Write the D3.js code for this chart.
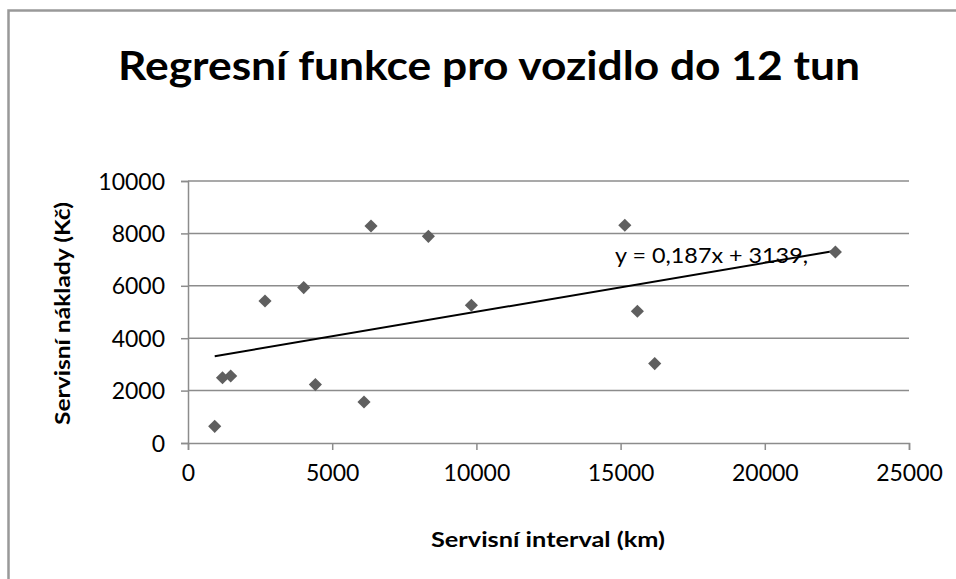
<!DOCTYPE html>
<html>
<head>
<meta charset="utf-8">
<script src="https://cdn.jsdelivr.net/npm/d3@7"></script>
<style>
  body { margin: 0; background: #fff; }
  text { font-family: Lato, "Open Sans", sans-serif; }
</style>
</head>
<body>
<script>
// data
var intervals = [926, 1196, 1480, 2670, 4012, 4417, 6103, 6346, 8335, 9826, 15146, 15582, 16183, 22448];
var costs     = [637, 2490, 2557, 5420, 5931, 2229, 1565, 8282, 7889, 5256, 8309, 5027, 3031, 7290];
var xTicks = [0, 5000, 10000, 15000, 20000, 25000];
var yTicks = [0, 2000, 4000, 6000, 8000, 10000];
var slope = 0.187, intercept = 3139;
var titleText = "Regresní funkce pro vozidlo do 12 tun";
var eqText = "y = 0,187x + 3139,";

var width = 956, height = 579;
var margin = {top: 181, right: 47, bottom: 136, left: 188};

var svg = d3.select("body").append("svg")
    .attr("width", width)
    .attr("height", height);

// chart frame
svg.append("rect")
    .attr("x", 8.5).attr("y", 10.5)
    .attr("width", 960).attr("height", 580)
    .attr("fill", "white")
    .attr("stroke", "#999")
    .attr("stroke-width", 2.5);

var x = d3.scaleLinear().domain([0, 25000]).range([margin.left, width - margin.right]);
var y = d3.scaleLinear().domain([0, 10000]).range([height - margin.bottom, margin.top]);

// gridlines
svg.append("g").selectAll("line")
    .data(yTicks.slice(1))
    .enter().append("line")
    .attr("x1", x(0)).attr("x2", x(25000))
    .attr("y1", function(d) { return y(d); })
    .attr("y2", function(d) { return y(d); })
    .attr("stroke", "#8c8c8c")
    .attr("stroke-width", 1.5);

// axes
var yAxis = svg.append("g")
    .attr("transform", "translate(" + x(0) + ",0)")
    .call(d3.axisLeft(y).tickValues(yTicks).tickSize(7).tickPadding(16).tickFormat(d3.format("d")));
var xAxis = svg.append("g")
    .attr("transform", "translate(0," + y(0) + ")")
    .call(d3.axisBottom(x).tickValues(xTicks).tickSize(7).tickPadding(15).tickFormat(d3.format("d")));

[xAxis, yAxis].forEach(function(a) {
  a.select(".domain").attr("stroke", "#8c8c8c").attr("stroke-width", 1.5);
  a.selectAll(".tick line").attr("stroke", "#8c8c8c").attr("stroke-width", 1.5);
  a.selectAll(".tick text")
    .attr("fill", "#000")
    .style("font-family", "Lato, sans-serif")
    .style("font-size", "23px");
});
yAxis.selectAll(".tick text").attr("dy", "0.35em");

// trend line
var tl = d3.line()
    .x(function(d) { return x(d); })
    .y(function(d) { return y(slope * d + intercept); });
svg.append("path")
    .datum([d3.min(intervals), d3.max(intervals)])
    .attr("d", tl)
    .attr("fill", "none")
    .attr("stroke", "#000")
    .attr("stroke-width", 2);

// points
var diamond = d3.symbol().type(d3.symbolDiamond2).size(110);
svg.append("g").selectAll("path")
    .data(intervals)
    .enter().append("path")
    .attr("d", diamond)
    .attr("transform", function(d, i) { return "translate(" + x(d) + "," + y(costs[i]) + ")"; })
    .attr("fill", "#5f5f5f");

// equation label
svg.append("text")
    .attr("x", 615).attr("y", 263)
    .attr("textLength", 193)
    .attr("lengthAdjust", "spacingAndGlyphs")
    .style("font-size", "21px")
    .attr("fill", "#000")
    .text(eqText);

// title
svg.append("text")
    .attr("x", 118).attr("y", 80)
    .attr("textLength", 742)
    .attr("lengthAdjust", "spacingAndGlyphs")
    .style("font-size", "40px")
    .style("font-weight", "bold")
    .text(titleText);

// axis titles
svg.append("text")
    .attr("x", 431).attr("y", 547)
    .attr("textLength", 234)
    .attr("lengthAdjust", "spacingAndGlyphs")
    .style("font-size", "21px")
    .style("font-weight", "bold")
    .text("Servisní interval (km)");

svg.append("text")
    .attr("transform", "translate(70,425) rotate(-90)")
    .attr("textLength", 223)
    .attr("lengthAdjust", "spacingAndGlyphs")
    .style("font-size", "21px")
    .style("font-weight", "bold")
    .text("Servisní náklady  (Kč)");
</script>
</body>
</html>
